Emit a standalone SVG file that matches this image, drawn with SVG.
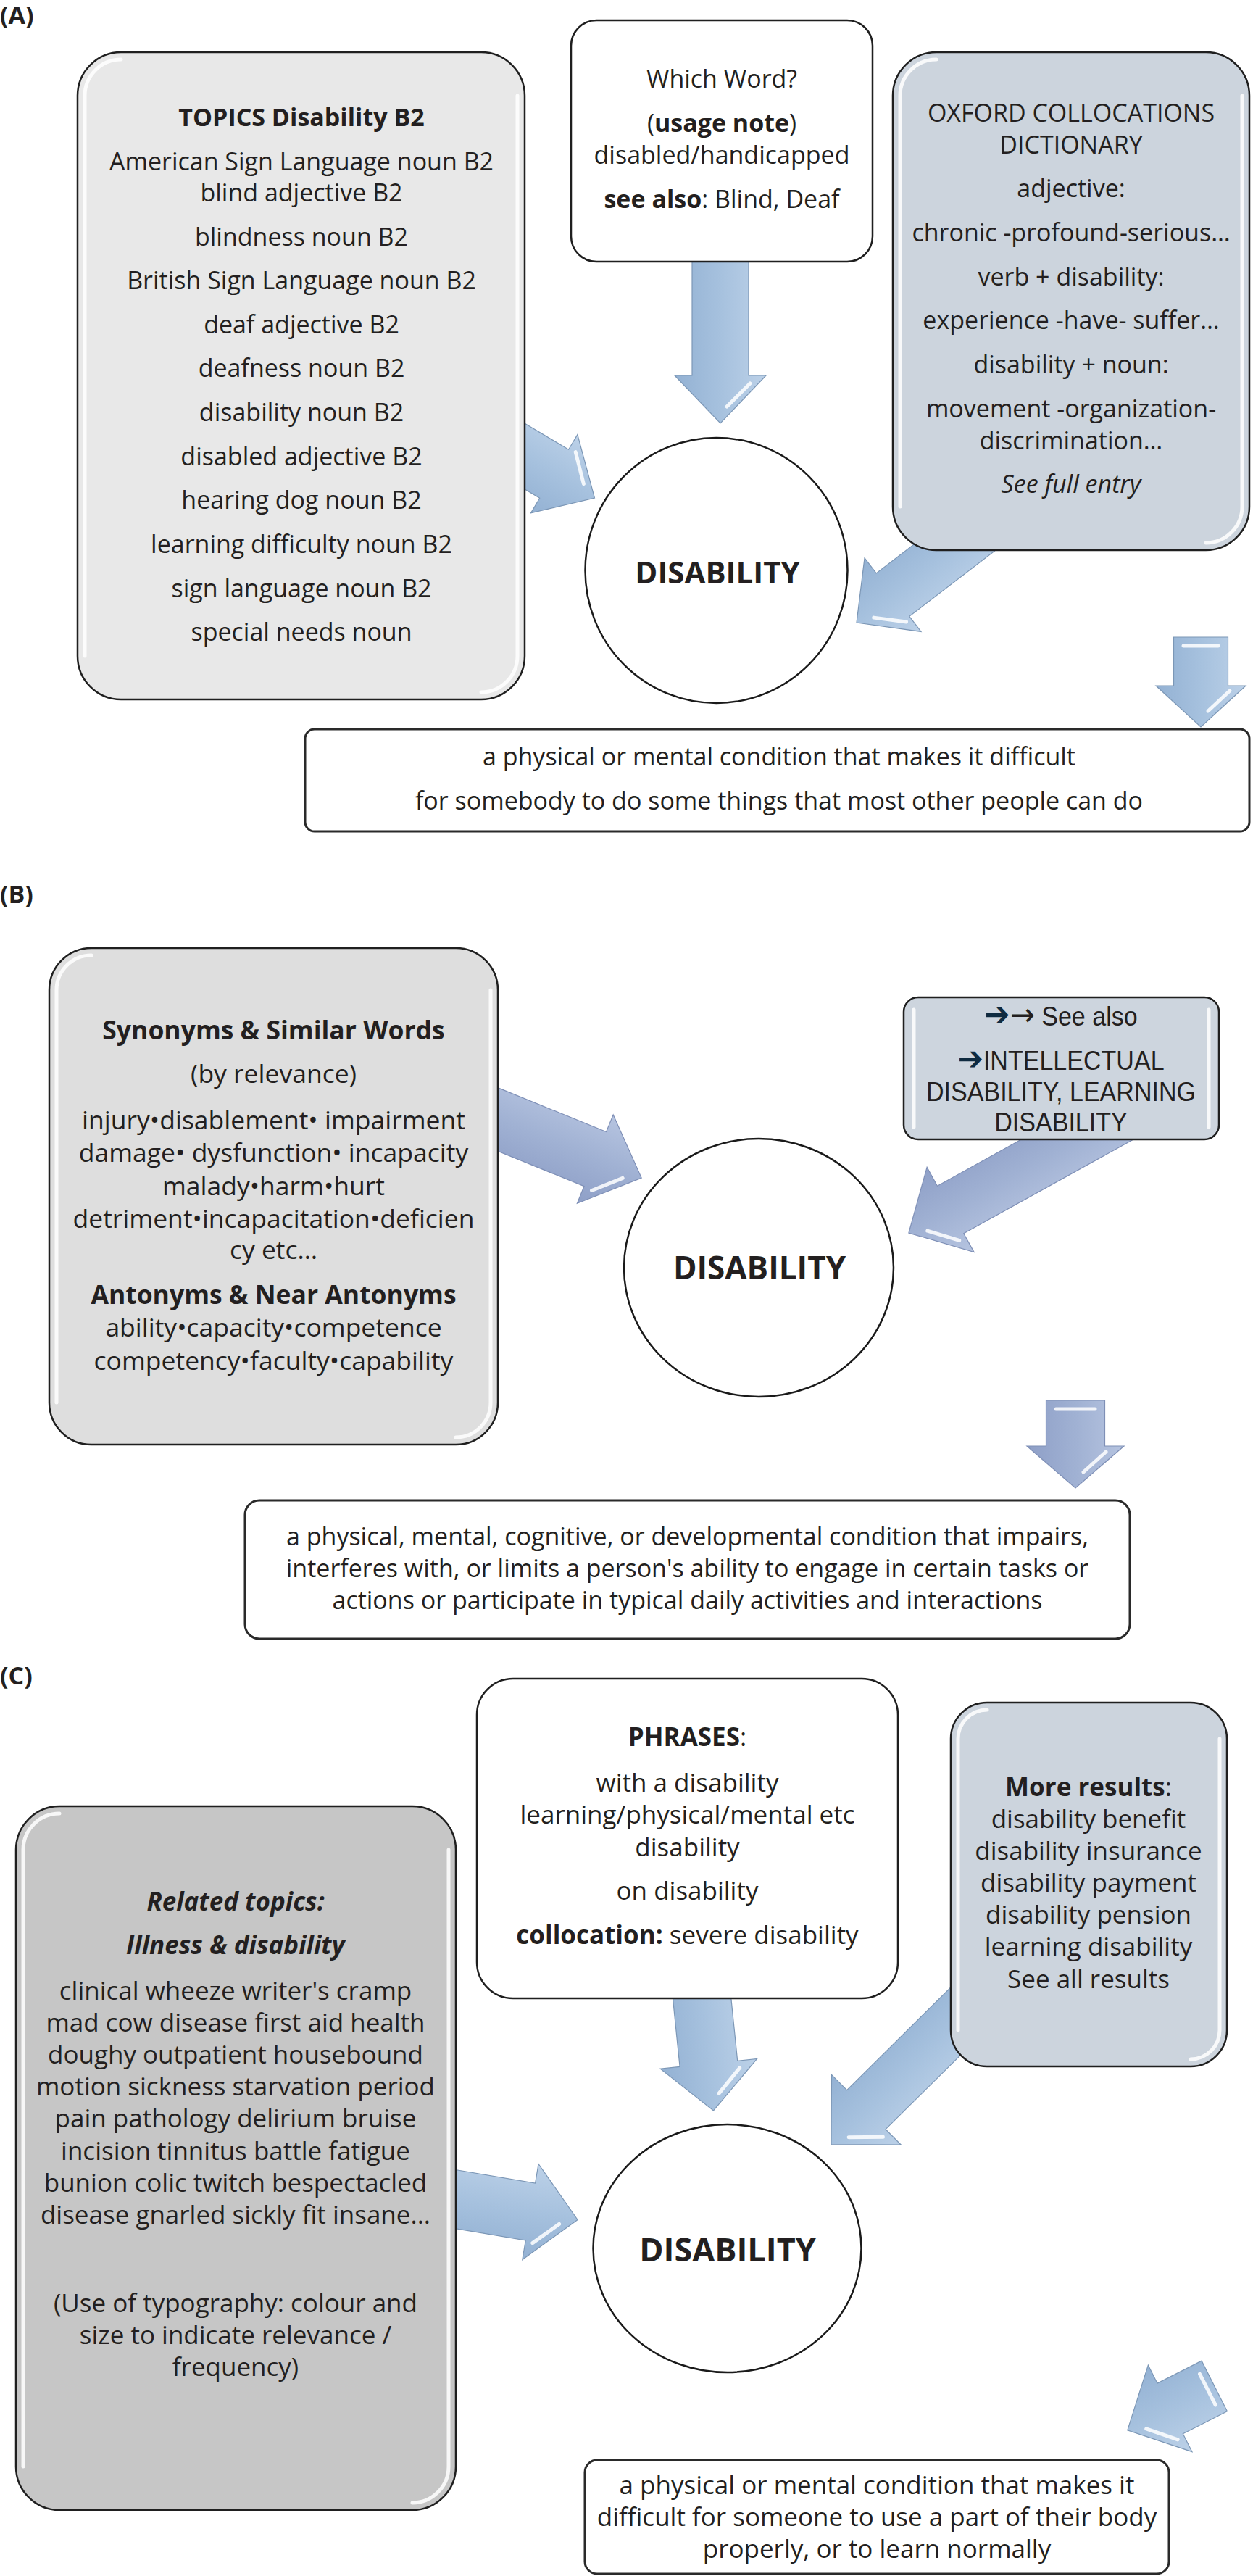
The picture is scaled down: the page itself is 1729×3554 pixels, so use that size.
<svg xmlns="http://www.w3.org/2000/svg" width="1729" height="3554" viewBox="0 0 1729 3554">
<defs>
<style>
.t{font-family:'Open Sans','Noto Sans',sans-serif;font-size:34px;fill:#231f20;text-anchor:middle}
.s35{font-size:35px}
.s355{font-size:35.5px}
.b{font-weight:bold}
.i{font-style:italic}
.lbl{font-family:'Open Sans','Noto Sans',sans-serif;font-size:34px;font-weight:bold;fill:#231f20}
.box{stroke:#1f1f1f;stroke-width:2.5}
.def{fill:#fff;stroke:#2a2a2a;stroke-width:3}
.circ{fill:#fff;stroke:#1a1a1a;stroke-width:2.5}
.arA{fill:url(#gA);stroke:#7c97b6;stroke-width:1.2}
.arB{fill:url(#gB);stroke:#7e8fb6;stroke-width:1.2}
.hl{fill:none;stroke:#fff;stroke-width:5;stroke-linecap:round;opacity:0.85}
.gl{fill:none;stroke:#fff;stroke-width:5;stroke-linecap:round;opacity:0.85}
.sa{font-family:'Liberation Sans',Arial,'DejaVu Sans',sans-serif;font-size:37px;fill:#231f20;text-anchor:middle}
.nv{fill:#0f2b40;font-family:'DejaVu Sans',sans-serif;font-size:46px}
.ta{font-family:'DejaVu Sans',sans-serif;font-size:44px}
.dis{font-family:'Open Sans','Noto Sans',sans-serif;font-weight:bold;fill:#231f20;text-anchor:middle}
</style>
<linearGradient id="gA" x1="0" y1="0" x2="0" y2="1">
<stop offset="0" stop-color="#bcd1e8"/>
<stop offset="0.5" stop-color="#a6c1de"/>
<stop offset="1" stop-color="#93b1d3"/>
</linearGradient>
<linearGradient id="gB" x1="0" y1="0" x2="0" y2="1">
<stop offset="0" stop-color="#b6c4e0"/>
<stop offset="0.5" stop-color="#a0b1d3"/>
<stop offset="1" stop-color="#8e9fc7"/>
</linearGradient>
</defs>
<rect width="1729" height="3554" fill="#fff"/>

<g id="connectors">
<g transform="translate(820.5 687) rotate(30.75)"><polygon class="arA" points="-170,-39 -65,-39 -65,-63 0,0 -65,63 -65,39 -170,39"/><path class="hl" d="M-55,-41 L-23,-9"/></g>
<g transform="translate(994 584) rotate(90)"><polygon class="arA" points="-239,-39 -66,-39 -66,-63 0,0 -66,63 -66,39 -239,39"/><path class="hl" d="M-55,-41 L-23,-9"/></g>
<g transform="translate(1182 859) rotate(142.5)"><polygon class="arA" points="-263,-37.5 -63,-37.5 -63,-64 0,0 -63,64 -63,37.5 -263,37.5"/><path class="hl" d="M-55,-41 L-23,-9"/></g>
<g transform="translate(1657 1003) rotate(90)"><polygon class="arA" points="-124,-37.5 -57,-37.5 -57,-62 0,0 -57,62 -57,37.5 -124,37.5"/><path class="hl" d="M-50,-40 L-22,-10"/><path class="hl" d="M-112,-24 L-112,24"/></g>
<g transform="translate(885.2 1625.1) rotate(22.15)"><polygon class="arB" points="-269,-40.5 -69,-40.5 -69,-66 0,0 -69,66 -69,40.5 -269,40.5"/><path class="hl" d="M-57,42 L-24,10"/></g>
<g transform="translate(1253.9 1701) rotate(151)"><polygon class="arB" points="-366,-37.5 -66,-37.5 -66,-67 0,0 -66,67 -66,37.5 -366,37.5"/><path class="hl" d="M-56,-43 L-24,-10"/></g>
<g transform="translate(1484 2053) rotate(90)"><polygon class="arB" points="-121,-40.5 -58,-40.5 -58,-67 0,0 -58,67 -58,40.5 -121,40.5"/><path class="hl" d="M-50,-42 L-22,-11"/><path class="hl" d="M-109,-27 L-109,27"/></g>
<g transform="translate(797 3062.5) rotate(9.56)"><polygon class="arA" points="-226,-40 -66,-40 -66,-67 0,0 -66,67 -66,40 -226,40"/><path class="hl" d="M-56,42 L-24,10"/></g>
<g transform="translate(984.5 2912) rotate(84.15)"><polygon class="arA" points="-195,-40 -65,-40 -65,-67 0,0 -65,67 -65,40 -195,40"/><path class="hl" d="M-55,-42 L-23,-10"/></g>
<g transform="translate(1147 2958.5) rotate(135.3)"><polygon class="arA" points="-328,-38 -68,-38 -68,-68 0,0 -68,68 -68,38 -328,38"/><path class="hl" d="M-58,-43 L-24,-10"/></g>
<g transform="translate(1555.8 3352.8) rotate(153.1)"><polygon class="arA" points="-134.5,-39 -66,-39 -66,-67 0,0 -66,67 -66,39 -134.5,39"/><path class="hl" d="M-56,-43 L-24,-10"/><path class="hl" d="M-124,-24 L-124,24"/></g>
</g>

<text class="lbl" x="0" y="33">(A)</text>
<text class="lbl" x="0" y="1246">(B)</text>
<text class="lbl" x="0" y="2324">(C)</text>

<g id="topics">
<rect class="box" x="107" y="72" width="617" height="893" rx="60" fill="#e8e8e8"/>
<path class="gl" d="M167,82 A50,50 0 0 0 117,132 L117,905"/>
<path class="gl" d="M714,132 L714,905 A50,50 0 0 1 664,955"/>
<text class="t b" x="416" y="174">TOPICS Disability B2</text>
<text class="t" x="416" y="235">American Sign Language noun B2</text>
<text class="t" x="416" y="278">blind adjective B2</text>
<text class="t" x="416" y="339">blindness noun B2</text>
<text class="t" x="416" y="399">British Sign Language noun B2</text>
<text class="t" x="416" y="460">deaf adjective B2</text>
<text class="t" x="416" y="520">deafness noun B2</text>
<text class="t" x="416" y="581">disability noun B2</text>
<text class="t" x="416" y="642">disabled adjective B2</text>
<text class="t" x="416" y="702">hearing dog noun B2</text>
<text class="t" x="416" y="763">learning difficulty noun B2</text>
<text class="t" x="416" y="824">sign language noun B2</text>
<text class="t" x="416" y="884">special needs noun</text>
</g>

<g id="which-word">
<rect class="box" x="788" y="28" width="416" height="333" rx="35" fill="#fff"/>
<text class="t" x="996" y="121">Which Word?</text>
<text class="t" x="996" y="182">(<tspan class="b">usage note</tspan>)</text>
<text class="t" x="996" y="226">disabled/handicapped</text>
<text class="t" x="996" y="287"><tspan class="b">see also</tspan>: Blind, Deaf</text>
</g>

<g id="oxford">
<rect class="box" x="1232" y="72" width="492" height="687" rx="60" fill="#ccd4dd"/>
<path class="gl" d="M1292,82 A50,50 0 0 0 1242,132 L1242,699"/>
<path class="gl" d="M1714,132 L1714,699 A50,50 0 0 1 1664,749"/>
<text class="t" x="1478" y="168">OXFORD COLLOCATIONS</text>
<text class="t" x="1478" y="212">DICTIONARY</text>
<text class="t" x="1478" y="272">adjective:</text>
<text class="t" x="1478" y="333">chronic -profound-serious…</text>
<text class="t" x="1478" y="394">verb + disability:</text>
<text class="t" x="1478" y="454">experience -have- suffer…</text>
<text class="t" x="1478" y="515">disability + noun:</text>
<text class="t" x="1478" y="576">movement -organization-</text>
<text class="t" x="1478" y="620">discrimination…</text>
<text class="t i" x="1478" y="680">See full entry</text>
</g>

<g id="disability-a">
<ellipse class="circ" cx="988.5" cy="787" rx="181" ry="183"/>
<text class="dis" x="990" y="805" font-size="42">DISABILITY</text>
</g>

<g id="definition-a">
<rect class="def" x="421" y="1006" width="1303" height="141" rx="13"/>
<text class="t" x="1075" y="1056">a physical or mental condition that makes it difficult</text>
<text class="t" x="1075" y="1117">for somebody to do some things that most other people can do</text>
</g>

<g id="synonyms">
<rect class="box" x="68" y="1308" width="619" height="685" rx="58" fill="#dedede"/>
<path class="gl" d="M126,1318 A48,48 0 0 0 78,1366 L78,1935"/>
<path class="gl" d="M677,1366 L677,1935 A48,48 0 0 1 629,1983"/>
<text class="t s355 b" x="377.5" y="1434">Synonyms &amp; Similar Words</text>
<text class="t s355" x="377.5" y="1494">(by relevance)</text>
<text class="t s355" x="377.5" y="1558">injury•disablement• impairment</text>
<text class="t s355" x="377.5" y="1603">damage• dysfunction• incapacity</text>
<text class="t s355" x="377.5" y="1649">malady•harm•hurt</text>
<text class="t s355" x="377.5" y="1694">detriment•incapacitation•deficien</text>
<text class="t s355" x="377.5" y="1737">cy etc…</text>
<text class="t s355 b" x="377.5" y="1799">Antonyms &amp; Near Antonyms</text>
<text class="t s355" x="377.5" y="1844">ability•capacity•competence</text>
<text class="t s355" x="377.5" y="1890">competency•faculty•capability</text>
</g>

<g id="see-also">
<rect class="box" x="1247" y="1376" width="435" height="196" rx="20" fill="#cdd5de"/>
<path class="gl" d="M1261,1393 L1261,1555"/>
<path class="gl" d="M1668,1393 L1668,1555"/>
<g transform="translate(1464 0) scale(0.92 1)">
<text class="sa" x="0" y="1415"><tspan class="nv">➔</tspan><tspan class="ta">→</tspan> See also</text>
<text class="sa" x="0" y="1476.5"><tspan class="nv">➔</tspan>INTELLECTUAL</text>
<text class="sa" x="0" y="1518.6">DISABILITY, LEARNING</text>
<text class="sa" x="0" y="1561">DISABILITY</text>
</g>
</g>

<g id="disability-b">
<ellipse class="circ" cx="1047" cy="1749" rx="186" ry="178"/>
<text class="dis" x="1048" y="1765" font-size="44">DISABILITY</text>
</g>

<g id="definition-b">
<rect class="def" x="338" y="2070" width="1221" height="191" rx="20"/>
<text class="t" x="948.5" y="2131.5">a physical, mental, cognitive, or developmental condition that impairs,</text>
<text class="t" x="948.5" y="2175.7">interferes with, or limits a person's ability to engage in certain tasks or</text>
<text class="t" x="948.5" y="2219.8">actions or participate in typical daily activities and interactions</text>
</g>

<g id="related">
<rect class="box" x="22" y="2492" width="607" height="971" rx="60" fill="#c6c6c6"/>
<path class="gl" d="M82,2502 A50,50 0 0 0 32,2552 L32,3403"/>
<path class="gl" d="M619,2552 L619,3403 A50,50 0 0 1 569,3453"/>
<text class="t s35 b i" x="325" y="2635.5">Related topics:</text>
<text class="t s35 b i" x="325" y="2696">Illness &amp; disability</text>
<text class="t s35" x="325" y="2759">clinical wheeze writer's cramp</text>
<text class="t s35" x="325" y="2803">mad cow disease first aid health</text>
<text class="t s35" x="325" y="2847">doughy outpatient housebound</text>
<text class="t s35" x="325" y="2891">motion sickness starvation period</text>
<text class="t s35" x="325" y="2935.4">pain pathology delirium bruise</text>
<text class="t s35" x="325" y="2979.5">incision tinnitus battle fatigue</text>
<text class="t s35" x="325" y="3023.6">bunion colic twitch bespectacled</text>
<text class="t s35" x="325" y="3067.7">disease gnarled sickly fit insane...</text>
<text class="t s35" x="325" y="3190">(Use of typography: colour and</text>
<text class="t s35" x="325" y="3234">size to indicate relevance /</text>
<text class="t s35" x="325" y="3278.4">frequency)</text>
</g>

<g id="phrases">
<rect class="box" x="658" y="2316" width="581" height="441" rx="50" fill="#fff"/>
<text class="t s35" x="948.5" y="2409.4"><tspan class="b">PHRASES</tspan>:</text>
<text class="t s35" x="948.5" y="2472.3">with a disability</text>
<text class="t s35" x="948.5" y="2516.4">learning/physical/mental etc</text>
<text class="t s35" x="948.5" y="2560.5">disability</text>
<text class="t s35" x="948.5" y="2621">on disability</text>
<text class="t s35" x="948.5" y="2681.8"><tspan class="b">collocation:</tspan> severe disability</text>
</g>

<g id="more-results">
<rect class="box" x="1312" y="2349" width="381" height="502" rx="50" fill="#ccd4dd"/>
<path class="gl" d="M1362,2359 A40,40 0 0 0 1322,2399 L1322,2801"/>
<path class="gl" d="M1683,2399 L1683,2801 A40,40 0 0 1 1643,2841"/>
<text class="t s35" x="1502" y="2477.8"><tspan class="b">More results</tspan>:</text>
<text class="t s35" x="1502" y="2522">disability benefit</text>
<text class="t s35" x="1502" y="2566">disability insurance</text>
<text class="t s35" x="1502" y="2610">disability payment</text>
<text class="t s35" x="1502" y="2654">disability pension</text>
<text class="t s35" x="1502" y="2698">learning disability</text>
<text class="t s35" x="1502" y="2742.5">See all results</text>
</g>

<g id="disability-c">
<ellipse class="circ" cx="1003.5" cy="3102" rx="185" ry="171"/>
<text class="dis" x="1004" y="3120" font-size="45">DISABILITY</text>
</g>

<g id="definition-c">
<rect class="def" x="807" y="3394" width="806" height="157" rx="17"/>
<text class="t s35" x="1210" y="3440.5">a physical or mental condition that makes it</text>
<text class="t s35" x="1210" y="3484.6">difficult for someone to use a part of their body</text>
<text class="t s35" x="1210" y="3528.7">properly, or to learn normally</text>
</g>
</svg>
